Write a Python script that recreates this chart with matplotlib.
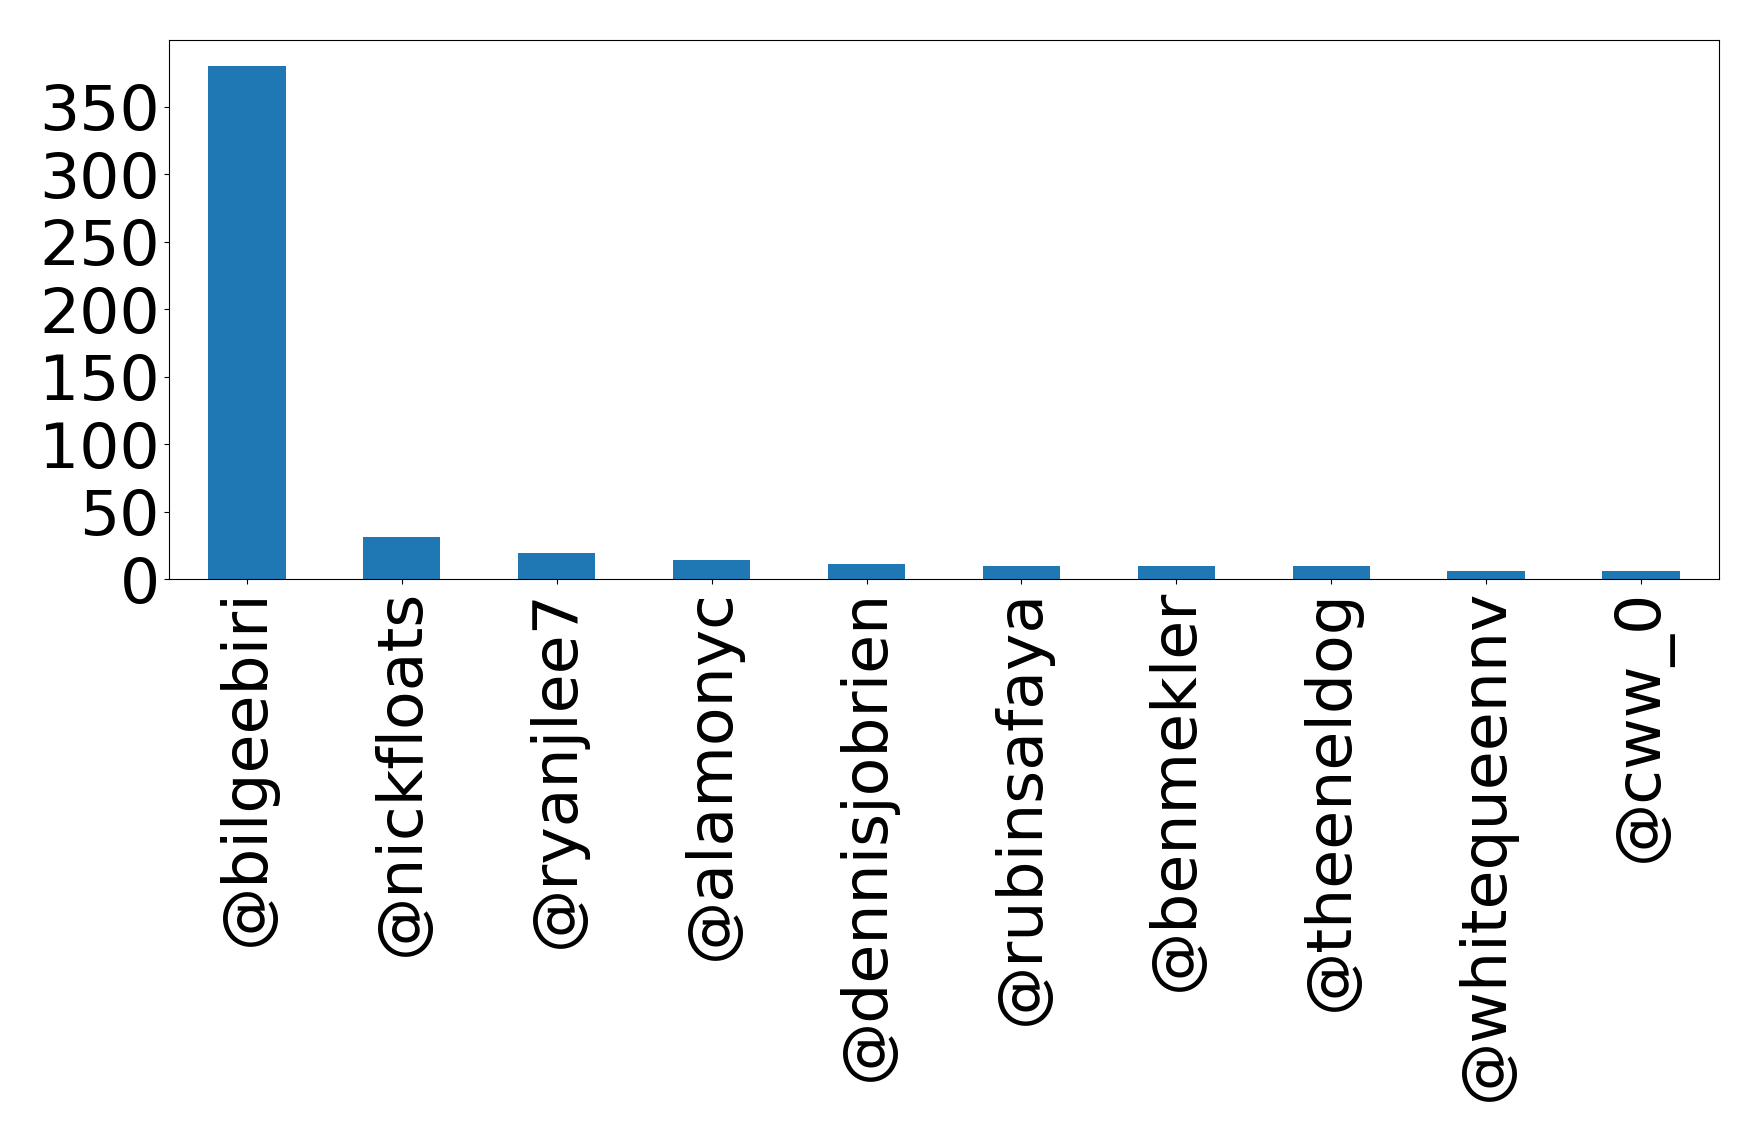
import matplotlib
matplotlib.use("Agg")
import matplotlib.pyplot as plt
import numpy as np

users = ['@bilgeebiri', '@nickfloats', '@ryanjlee7', '@alamonyc', '@dennisjobrien',
         '@rubinsafaya', '@benmekler', '@theeneldog', '@whitequeennv', '@cww_0']
counts = [380, 31, 19, 14, 11, 10, 10, 10, 6, 6]

fig = plt.figure(figsize=(17.59, 11.34), dpi=100)
ax = fig.add_axes([0.0963, 0.4894, 0.977 - 0.0963, 0.9644 - 0.4894])

x = np.arange(len(users))
ax.bar(x, counts, width=0.5, color='#1f77b4')
ax.set_xlim(-0.5, len(users) - 0.5)
ax.set_xticks(x)
ax.set_xticklabels(users, rotation=90)
ax.set_yticks(np.arange(0, 351, 50))
ax.tick_params(axis='both', labelsize=45.5)

fig.savefig('out.png', dpi=100)
